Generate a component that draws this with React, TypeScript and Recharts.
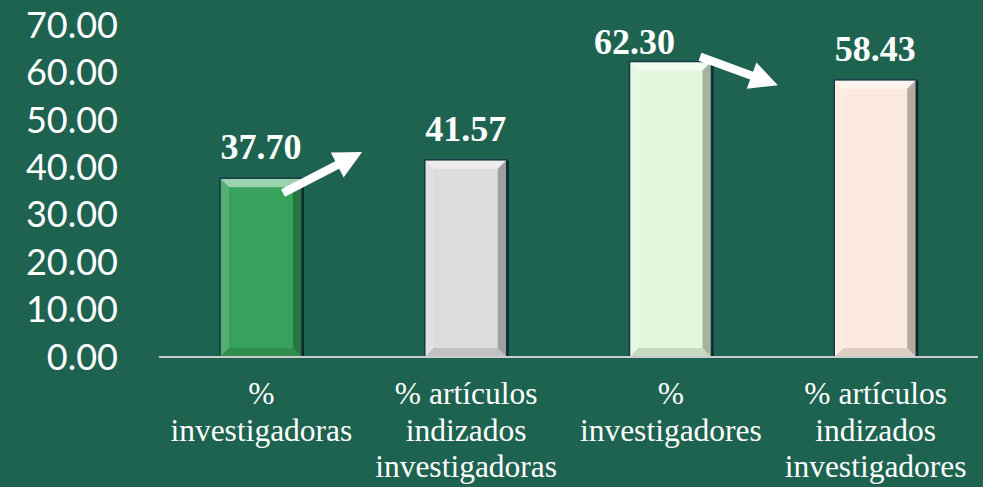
import React from 'react';
import { BarChart, Bar, XAxis, YAxis, Cell, LabelList, ReferenceLine } from 'recharts';

const categories = [
  '%\ninvestigadoras',
  '% artículos\nindizados\ninvestigadoras',
  '%\ninvestigadores',
  '% artículos\nindizados\ninvestigadores',
];
const values = [37.7, 41.57, 62.3, 58.43];
const yTicks = [0, 10, 20, 30, 40, 50, 60, 70];
const barColors = ['#37a25b', '#dcdcdc', '#e2f8dc', '#fdeadf'];
// arrow annotations in data units (x on a 0..3 plot-width scale, y in %)
const arrowStarts = [{ x: 0.454, y: 34.6 }, { x: 1.982, y: 63.3 }];
const arrowEnds = [{ x: 0.744, y: 43.2 }, { x: 2.267, y: 57.3 }];

const data = categories.map((c, i) => ({ name: c, value: values[i] }));

const BG = '#1d6350';

const BevelBar = (props: any) => {
  const { x, y, width, height, fill } = props;
  if (!height || height <= 0) return null;
  const b = 9;
  const x2 = x + width;
  const y2 = y + height;
  return (
    <g>
      <rect x={x} y={y} width={width} height={height} fill={fill} />
      <polygon points={`${x},${y} ${x2},${y} ${x2 - b},${y + b} ${x + b},${y + b}`} fill="#ffffff" opacity={0.5} />
      <polygon points={`${x},${y} ${x + b},${y + b} ${x + b},${y2 - b} ${x},${y2}`} fill="#ffffff" opacity={0.15} />
      <polygon points={`${x2},${y} ${x2},${y2} ${x2 - b},${y2 - b} ${x2 - b},${y + b}`} fill="#000000" opacity={0.28} />
      <polygon points={`${x},${y2} ${x2},${y2} ${x2 - b},${y2 - b} ${x + b},${y2 - b}`} fill="#000000" opacity={0.12} />
      <rect x={x} y={y} width={width} height={height} fill="none" stroke="#143845" strokeWidth={1.5} />
      <line x1={x2 + 1} y1={y + 1} x2={x2 + 1} y2={y2} stroke="#0c2a2a" strokeWidth={2} />
    </g>
  );
};

const labelNudge: Record<number, { dx: number; dy: number }> = { 2: { dx: -36, dy: 11 } };

const ValueLabel = (props: any) => {
  const vb = props.viewBox || props;
  const x = vb.x ?? props.x;
  const y = vb.y ?? props.y;
  const width = vb.width ?? props.width;
  const idx = props.index ?? 0;
  const n = labelNudge[idx] || { dx: 0, dy: 0 };
  const v = Number(props.value);
  return (
    <text
      x={x + width / 2 + n.dx}
      y={y - 19 + n.dy}
      textAnchor="middle"
      fill="#ffffff"
      fontFamily="'Liberation Serif', 'Times New Roman', serif"
      fontWeight="bold"
      fontSize={36}
    >
      {v.toFixed(2)}
    </text>
  );
};

const CatTick = (props: any) => {
  const { x, y, payload } = props;
  const lines = String(payload.value).split('\n');
  return (
    <text
      textAnchor="middle"
      fill="#ffffff"
      fontFamily="'Liberation Serif', 'Times New Roman', serif"
      fontSize={31.5}
    >
      {lines.map((l, i) => (
        <tspan key={i} x={x} y={y + 47 + i * 36.5}>
          {l}
        </tspan>
      ))}
    </text>
  );
};

const ArrowShape = (p: any) => {
  const x1 = Number(p.x1), y1 = Number(p.y1), x2 = Number(p.x2), y2 = Number(p.y2);
  if (![x1, y1, x2, y2].every(Number.isFinite)) return null;
  const dx = x2 - x1, dy = y2 - y1;
  const len = Math.hypot(dx, dy) || 1;
  const ux = dx / len, uy = dy / len;
  const nx = -uy, ny = ux;
  const hl = 28, hw = 14, sw = 4.2;
  const bx = x2 - ux * hl, by = y2 - uy * hl;
  const pts = [
    [x1 + nx * sw, y1 + ny * sw],
    [bx + nx * sw, by + ny * sw],
    [bx + nx * hw, by + ny * hw],
    [x2, y2],
    [bx - nx * hw, by - ny * hw],
    [bx - nx * sw, by - ny * sw],
    [x1 - nx * sw, y1 - ny * sw],
  ]
    .map((q) => q.join(','))
    .join(' ');
  return <polygon points={pts} fill="#ffffff" />;
};

export default function App() {
  return (
    <div style={{ position: 'absolute', left: 0, top: 0, width: 983, height: 487, background: BG }}>
      <BarChart width={983} height={487} data={data} margin={{ top: 25, right: 5, left: 0, bottom: 0 }}>
        <YAxis
          domain={[0, 70]}
          ticks={yTicks}
          interval={0}
          width={159}
          axisLine={false}
          tickLine={false}
          tickSize={0}
          tickMargin={41}
          tickFormatter={(v: number) => v.toFixed(2)}
          tick={{ fill: '#ffffff', fontSize: 36, fontFamily: 'Lato, Carlito, Calibri, sans-serif' }}
        />
        <XAxis
          dataKey="name"
          height={130}
          interval={0}
          tickLine={false}
          tickSize={0}
          tickMargin={0}
          axisLine={{ stroke: '#c9cdd0', strokeWidth: 2 }}
          tick={<CatTick />}
        />
        <XAxis xAxisId="arrow" type="number" domain={[0, 3]} allowDataOverflow hide />
        <Bar dataKey="value" barSize={82} isAnimationActive={false} shape={BevelBar}>
          {data.map((_, i) => (
            <Cell key={i} fill={barColors[i]} />
          ))}
          <LabelList dataKey="value" content={ValueLabel} />
        </Bar>
        {arrowStarts.map((s, i) => (
          <ReferenceLine
            key={i}
            xAxisId="arrow"
            segment={[s, arrowEnds[i]]}
            ifOverflow="visible"
            stroke="#ffffff"
            shape={ArrowShape}
          />
        ))}
      </BarChart>
    </div>
  );
}
